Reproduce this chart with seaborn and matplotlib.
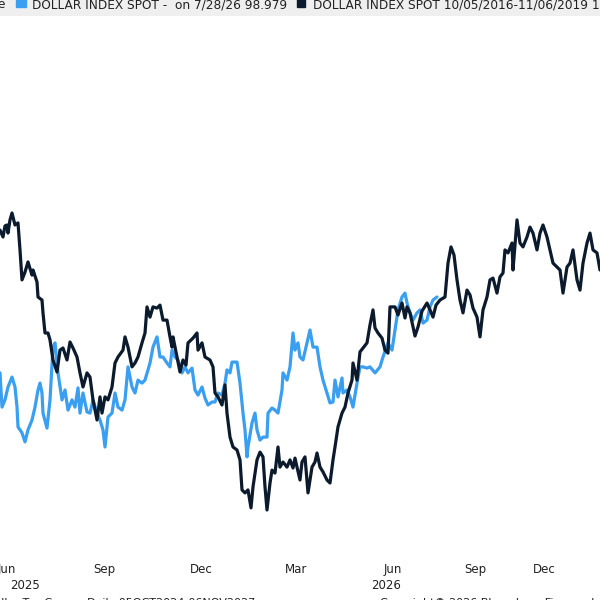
import numpy as np
import pandas as pd
import matplotlib
matplotlib.use("Agg")
import matplotlib.pyplot as plt
import matplotlib.transforms as mtransforms
from matplotlib.patches import Rectangle
import seaborn as sns

# x = position along the chart's time axis (trading-day slots), y = index level
dxy_2016_19_x = [
    0, 3, 5, 7, 8, 10, 12, 15, 18, 20,
    22, 25, 28, 32, 33, 37, 38, 42, 43, 45,
    48, 50, 53, 57, 60, 63, 67, 70, 73, 77,
    80, 83, 87, 90, 93, 97, 100, 102, 105, 108,
    112, 115, 118, 123, 125, 128, 132, 135, 138, 142,
    145, 147, 150, 153, 157, 160, 163, 167, 170, 172,
    173, 177, 180, 183, 186, 188, 193, 197, 198, 202,
    205, 210, 213, 215, 218, 222, 225, 227, 230, 233,
    237, 240, 242, 245, 248, 251, 253, 257, 260, 263,
    265, 267, 270, 272, 275, 278, 280, 283, 287, 290,
    293, 295, 297, 300, 302, 305, 308, 312, 315, 317,
    320, 323, 327, 330, 333, 335, 338, 342, 345, 348,
    352, 353, 357, 360, 363, 367, 370, 373, 375, 378,
    382, 385, 388, 390, 395, 398, 402, 405, 407, 410,
    415, 418, 422, 427, 430, 433, 436, 440, 445, 448,
    451, 454, 457, 460, 463, 467, 470, 473, 477, 480,
    483, 487, 490, 493, 497, 500, 503, 505, 508, 512,
    513, 517, 520, 523, 527, 530, 533, 537, 540, 543,
    547, 550, 553, 557, 560, 563, 567, 570, 573, 577,
    580, 583, 587, 590, 593, 597, 600,
]
dxy_2016_19 = [
    97.33, 97.10, 97.47, 97.50, 97.23, 97.67, 97.90, 97.50, 97.57, 96.67,
    95.67, 95.93, 96.27, 95.83, 96.00, 95.60, 95.10, 95.00, 94.57, 93.90,
    93.90, 93.67, 93.00, 92.60, 93.33, 93.40, 93.00, 93.60, 93.40, 93.10,
    92.57, 92.10, 92.57, 92.43, 91.67, 91.00, 91.77, 91.23, 91.77, 91.67,
    92.10, 92.90, 93.10, 93.33, 93.77, 93.43, 92.77, 92.90, 93.10, 93.57,
    93.90, 94.77, 94.43, 94.77, 94.73, 94.83, 94.33, 94.33, 93.77, 93.43,
    93.77, 93.10, 92.60, 93.00, 92.83, 93.57, 93.73, 93.90, 93.33, 93.57,
    93.10, 93.00, 92.77, 91.90, 91.77, 91.50, 92.17, 91.23, 90.43, 90.10,
    90.00, 89.67, 88.67, 88.57, 88.67, 88.07, 88.77, 89.67, 89.93, 89.77,
    88.77, 88.00, 88.90, 89.33, 89.23, 90.10, 89.43, 89.60, 89.43, 89.67,
    89.40, 89.73, 89.43, 89.00, 89.60, 89.77, 88.57, 89.43, 89.60, 89.90,
    89.43, 89.27, 89.00, 88.90, 89.67, 90.10, 90.77, 91.23, 91.43, 91.90,
    92.33, 92.90, 92.33, 93.27, 93.40, 93.57, 94.17, 94.67, 94.07, 93.90,
    93.73, 93.33, 93.23, 94.77, 94.77, 94.50, 94.90, 94.40, 94.77, 94.57,
    93.80, 94.10, 94.63, 94.90, 94.67, 94.43, 94.83, 95.00, 95.10, 96.23,
    96.77, 96.50, 95.67, 95.00, 94.57, 95.33, 95.17, 94.73, 94.43, 93.77,
    94.67, 95.10, 95.67, 95.73, 95.23, 95.77, 95.90, 96.67, 96.57, 96.90,
    96.00, 97.67, 96.90, 96.77, 97.10, 97.43, 97.23, 96.67, 97.23, 97.50,
    97.10, 96.67, 96.23, 96.10, 96.00, 95.23, 96.10, 96.23, 96.67, 95.67,
    95.33, 96.23, 96.90, 97.23, 96.67, 96.57, 96.00,
]

dxy_now_x = [
    0, 2, 5, 8, 12, 15, 17, 18, 22, 25,
    28, 32, 35, 38, 40, 42, 43, 47, 50, 53,
    55, 58, 62, 65, 68, 72, 75, 78, 80, 83,
    87, 90, 93, 97, 100, 103, 105, 108, 112, 115,
    118, 122, 125, 128, 132, 135, 138, 142, 145, 150,
    153, 157, 160, 163, 167, 170, 172, 175, 178, 182,
    185, 188, 192, 195, 198, 202, 205, 208, 212, 215,
    218, 222, 225, 227, 230, 232, 237, 240, 243, 245,
    247, 248, 252, 255, 257, 260, 263, 267, 268, 272,
    275, 278, 282, 283, 287, 290, 293, 295, 298, 300,
    303, 307, 310, 313, 317, 320, 323, 327, 330, 333,
    335, 338, 342, 343, 347, 350, 353, 357, 360, 363,
    367, 370, 375, 380, 383, 388, 392, 395, 398, 402,
    405, 407, 410, 413, 417, 420, 423, 427, 430, 433,
    437,
]
dxy_now = [
    96.45, 95.31, 95.55, 95.98, 96.31, 95.98, 95.31, 94.65, 94.45, 94.15,
    94.55, 94.88, 95.31, 95.88, 96.11, 95.78, 95.11, 94.61, 95.55, 97.31,
    97.45, 96.45, 95.55, 95.88, 95.21, 95.55, 95.31, 95.95, 95.11, 95.78,
    95.15, 95.11, 95.55, 95.11, 94.88, 94.55, 93.98, 94.98, 95.11, 95.78,
    95.31, 95.21, 95.55, 96.65, 95.98, 95.78, 96.21, 96.11, 96.21, 96.78,
    97.31, 97.65, 96.98, 96.98, 96.78, 96.65, 97.21, 96.98, 96.88, 96.45,
    96.65, 96.45, 96.61, 95.88, 95.71, 95.98, 95.61, 95.38, 95.48, 95.48,
    95.78, 95.71, 96.11, 96.55, 96.45, 96.81, 96.81, 96.11, 95.11, 94.55,
    93.65, 93.98, 94.78, 95.11, 94.55, 94.21, 94.31, 94.31, 95.11, 95.28,
    95.21, 95.11, 95.88, 96.45, 96.21, 96.65, 97.78, 97.21, 97.45, 96.98,
    96.88, 97.45, 97.88, 97.31, 97.31, 96.65, 96.21, 95.78, 95.45, 95.48,
    96.21, 95.65, 96.28, 95.78, 95.88, 95.65, 95.31, 96.11, 96.65, 96.65,
    96.61, 96.65, 96.45, 96.65, 96.98, 97.45, 97.21, 97.88, 98.55, 98.98,
    99.11, 98.78, 98.45, 98.21, 98.45, 98.55, 98.11, 98.21, 98.65, 98.88,
    98.98,
]

month_pos = [7, 104, 201, 296, 393, 475, 544]
month_labels = ["Jun", "Sep", "Dec", "Mar", "Jun", "Sep", "Dec"]
year_pos = [25, 386]
year_labels = ["2025", "2026"]

legend_now = "DOLLAR INDEX SPOT -  on 7/28/26 98.979"
legend_old = "DOLLAR INDEX SPOT 10/05/2016-11/06/2019 10/05/2024-11/06/2027"
footer_left = "Dollar Tax Curncy Daily 05OCT2024-06NOV2027"
footer_right = "Copyright\u00a9 2026 Bloomberg Finance L.P."

BLUE = "#3a9ff0"
NAVY = "#0b1a2c"
TXT = "#222222"

sns.set_style("white")
plt.rcParams["font.family"] = ["DejaVu Sans"]

fig = plt.figure(figsize=(6, 6), dpi=100)
ax = fig.add_axes([0, 40 / 600, 1, 544 / 600])
ax2 = ax.twinx()

now_df = pd.DataFrame({"x": dxy_now_x, "y": dxy_now})
old_df = pd.DataFrame({"x": dxy_2016_19_x, "y": dxy_2016_19})

sns.lineplot(data=now_df, x="x", y="y", ax=ax, color=BLUE, linewidth=2.3)
sns.lineplot(data=old_df, x="x", y="y", ax=ax2, color=NAVY, linewidth=2.3)

ax.set_xlim(0, 600)
ax.set_ylim(90.213, 108.347)
ax2.set_ylim(86.333, 104.467)

for a in (ax, ax2):
    a.set_yticks([])
    a.set_ylabel("")
    a.set_xlabel("")
    for s in a.spines.values():
        s.set_visible(False)

ax.set_xticks(month_pos, month_labels)
ax.tick_params(axis="x", length=0, pad=2.5, labelsize=8.5, colors=TXT)

trans = mtransforms.blended_transform_factory(ax.transData, ax.transAxes)
for xp, lab in zip(year_pos, year_labels):
    ax.text(xp, -0.047, lab, transform=trans, ha="center", va="center",
            fontsize=8.5, color=TXT)

# legend strip across the top
fig.add_artist(Rectangle((0, 1 - 15 / 600), 1, 15 / 600,
                         transform=fig.transFigure, color="#efefef", zorder=0))
fig.add_artist(Rectangle((16 / 600, 1 - 7 / 600), 10 / 600, 9 / 600,
                         transform=fig.transFigure, color=BLUE))
fig.add_artist(Rectangle((297 / 600, 1 - 7 / 600), 8 / 600, 9 / 600,
                         transform=fig.transFigure, color=NAVY))
fig.text(-0.004, 1 - 8.5 / 600, "e", fontsize=8.7, color=TXT, va="baseline")
fig.text(32 / 600, 1 - 8.5 / 600, legend_now, fontsize=8.7, color=TXT, va="baseline")
fig.text(313 / 600, 1 - 8.5 / 600, legend_old, fontsize=8.7, color=TXT, va="baseline")

# footer, mostly clipped by the bottom edge
fig.text(-14 / 600, -8 / 600, footer_left, fontsize=8, color=TXT, va="bottom")
fig.text(380 / 600, -8 / 600, footer_right, fontsize=8, color=TXT, va="bottom")

fig.savefig("out.png", dpi=100)
